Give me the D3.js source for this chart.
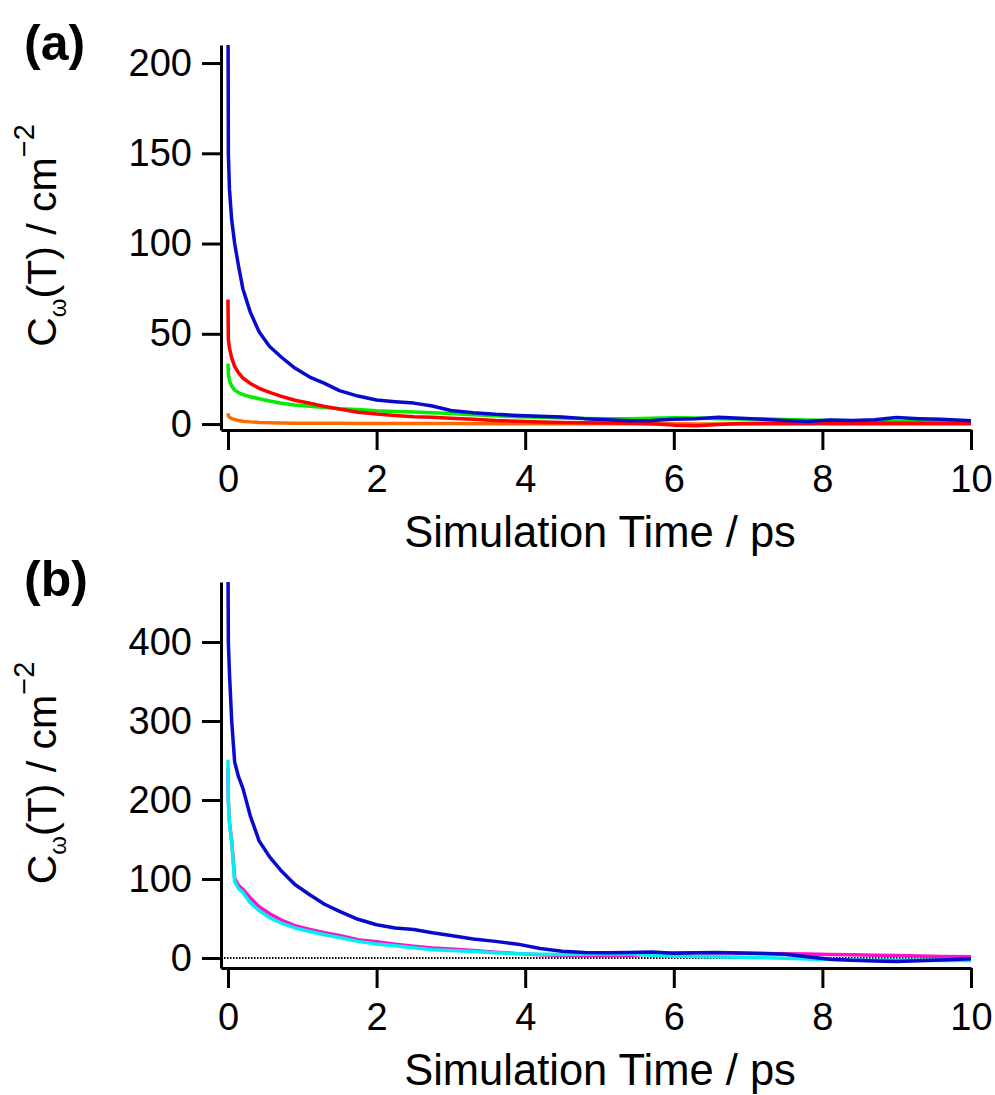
<!DOCTYPE html>
<html>
<head>
<meta charset="utf-8">
<script src="https://cdn.jsdelivr.net/npm/d3@7"></script>
<style>
  html, body { margin: 0; padding: 0; background: #fff; }
  svg { display: block; }
  text { font-family: "Liberation Sans", Arial, sans-serif; fill: #000; }
</style>
</head>
<body>
<svg id="chart" width="995" height="1095"></svg>
<script>
// ---------- DATA ----------
const timeA = [0, 0.005, 0.02, 0.05, 0.09, 0.14, 0.2, 0.3, 0.42, 0.56, 0.72, 0.9, 1.1, 1.3, 1.5, 1.75, 2.0, 2.25, 2.5, 2.75, 3.0, 3.3, 3.6, 3.9, 4.2, 4.5, 4.8, 5.1, 5.4, 5.7, 6.0, 6.3, 6.6, 6.9, 7.2, 7.5, 7.8, 8.1, 8.4, 8.7, 9.0, 9.3, 9.6, 10.0];
const blueA   = [240, 150, 130, 113, 100, 88, 75, 62, 51, 43, 37, 31, 26, 22.5, 18.5, 15.5, 13.3, 12.4, 11.6, 10, 7.5, 6.3, 5.4, 4.8, 4.3, 3.9, 3.0, 2.4, 1.8, 2.0, 2.6, 3.0, 3.7, 3.2, 2.6, 1.9, 1.4, 2.2, 1.9, 2.4, 3.6, 3.0, 2.6, 1.8];
const redA    = [69, 47, 42, 36.5, 32, 28.5, 25.5, 22.5, 19.8, 17.5, 15.3, 13.2, 11.5, 9.8, 8.3, 6.5, 5.5, 4.8, 4.1, 3.7, 3.2, 2.6, 1.9, 1.5, 1.2, 0.9, 0.7, 0.6, 0.5, 0.2, -0.6, -1.0, -0.3, 0.3, 0.5, 0.4, 0.6, 0.5, 0.4, 0.6, 0.5, 0.4, 0.5, 0.4];
const greenA  = [33.5, 28, 24, 21, 18.8, 17.5, 16.3, 15.1, 14, 12.8, 11.5, 10.6, 9.8, 9.1, 8.5, 8.1, 7.4, 7.0, 6.7, 6.2, 5.8, 5.2, 4.6, 4.0, 3.7, 3.4, 3.1, 3.0, 3.0, 3.2, 3.5, 3.3, 3.0, 2.8, 2.8, 2.5, 2.2, 2.0, 1.8, 1.5, 1.3, 1.6, 1.9, 1.8];
const orangeA = [6, 4.5, 3.8, 3.0, 2.5, 2.0, 1.6, 1.2, 0.9, 0.7, 0.6, 0.5, 0.45, 0.4, 0.4, 0.35, 0.3, 0.3, 0.3, 0.25, 0.25, 0.2, 0.2, 0.2, 0.15, 0.15, 0.1, 0.1, 0.1, 0.1, 0.1, 0.05, 0.05, 0.05, 0, 0, 0, 0, 0, 0, 0, 0, 0, 0];

const timeB = timeA;
const blueB    = [500, 400, 360, 300, 248, 230, 215, 180, 148, 128, 110, 93, 80, 68, 59, 49, 42, 38, 36, 32, 28.5, 24, 21, 17.5, 12, 8.5, 6.8, 6.6, 7.0, 7.6, 6.0, 6.6, 6.8, 6.2, 5.6, 4.8, 1.5, -1.5, -3.0, -3.8, -4.4, -3.5, -2.6, -1];
const magentaB = [240, 200, 172, 148, 101, 92, 87, 76, 65, 56, 48, 41, 36, 32, 28.5, 23, 20.5, 17.5, 15, 12.5, 11.3, 9.5, 7.4, 5.5, 4.0, 3.2, 3.0, 3.0, 3.2, 5.0, 6.2, 6.6, 6.6, 6.0, 5.8, 5.4, 5.0, 4.4, 4.0, 3.5, 3.0, 2.5, 2.0, 1.5];
const cyanB    = [251, 197, 170, 146, 97, 88, 83, 70, 60, 51, 44, 38, 33.5, 29.5, 26, 21, 17.8, 15.5, 13, 10.5, 9.5, 8.2, 6.6, 5.5, 4.8, 4.4, 4.8, 5.0, 5.3, 3.5, 2.3, 2.0, 1.5, 0.8, 0.2, -0.5, -1.2, -1.8, -2.5, -2.8, -3.0, -3.0, -3.2, -3.2];

const xTicks = [0, 2, 4, 6, 8, 10];
const yTicksA = [0, 50, 100, 150, 200];
const yTicksB = [0, 100, 200, 300, 400];
const xLabel = "Simulation Time / ps";
const panelLabels = ["(a)", "(b)"];

// ---------- DRAW ----------
const svg = d3.select("#chart");

function drawPanel(cfg) {
  const x = d3.scaleLinear().domain([-0.094, 10]).range([221, 971]);
  const y = d3.scaleLinear().domain(cfg.yDomain).range([cfg.bottom, cfg.top]);
  const g = svg.append("g");

  const clipId = "clip" + cfg.id;
  svg.append("defs").append("clipPath").attr("id", clipId)
    .append("rect").attr("x", 221).attr("y", cfg.top)
    .attr("width", 760).attr("height", cfg.bottom - cfg.top);

  const plot = g.append("g").attr("clip-path", `url(#${clipId})`);

  if (cfg.zeroLine) {
    plot.append("line")
      .attr("x1", x.range()[0]).attr("x2", x(10))
      .attr("y1", y(0)).attr("y2", y(0))
      .attr("stroke", "#000").attr("stroke-width", 2)
      .attr("stroke-dasharray", "1.5,1.5");
  }

  const line = d3.line().x((d, i) => x(cfg.time[i])).y(d => y(d));
  cfg.series.forEach(s => {
    plot.append("path").datum(s.values)
      .attr("d", line)
      .attr("fill", "none")
      .attr("stroke", s.color)
      .attr("stroke-width", 3.5)
      .attr("stroke-linejoin", "round");
  });

  // axes
  const yAxis = d3.axisLeft(y).tickValues(cfg.yTicks).tickSize(19).tickSizeOuter(0).tickPadding(10);
  const gy = g.append("g").attr("transform", "translate(221,0)").call(yAxis);
  const xAxis = d3.axisBottom(x).tickValues(xTicks).tickSize(20).tickSizeOuter(0).tickPadding(15);
  const gx = g.append("g").attr("transform", `translate(0,${cfg.bottom})`).call(xAxis);

  [gx, gy].forEach(a => {
    a.select(".domain").attr("stroke", "#000").attr("stroke-width", 3);
    a.selectAll(".tick line").attr("stroke", "#000").attr("stroke-width", 3);
    a.selectAll(".tick text").attr("font-size", 38).attr("font-family", "Liberation Sans, Arial, sans-serif").attr("fill", "#000");
  });

  // x label
  g.append("text").attr("x", 600).attr("y", cfg.bottom + 117)
    .attr("text-anchor", "middle").attr("font-size", 43.5).text(xLabel);

  // y label
  const cy = (cfg.top + cfg.bottom) / 2 - 2;
  const yl = g.append("text")
    .attr("transform", `translate(56,${cy}) rotate(-90)`)
    .attr("text-anchor", "middle").attr("font-size", 41);
  yl.append("tspan").text("C");
  yl.append("tspan").attr("font-size", 24).attr("dy", 10).text("ω");
  yl.append("tspan").attr("dy", -10).text("(T) / cm");
  yl.append("tspan").attr("font-size", 29).attr("dy", -22).text("−2");

  // panel label
  g.append("text").attr("x", 24).attr("y", cfg.labelY)
    .attr("font-size", 50).attr("font-weight", "bold").text(cfg.label);
}

drawPanel({
  id: "a", top: 45, bottom: 430, yDomain: [-3.3, 210], yTicks: yTicksA, time: timeA,
  label: panelLabels[0], labelY: 60, zeroLine: false,
  series: [
    { values: orangeA, color: "#ff6a00" },
    { values: greenA, color: "#00ee00" },
    { values: redA, color: "#ff0000" },
    { values: blueA, color: "#0a0acc" }
  ]
});

drawPanel({
  id: "b", top: 582, bottom: 968, yDomain: [-12.7, 476], yTicks: yTicksB, time: timeB,
  label: panelLabels[1], labelY: 596, zeroLine: true,
  series: [
    { values: magentaB, color: "#ff10c8" },
    { values: cyanB, color: "#00f0f0" },
    { values: blueB, color: "#0a0acc" }
  ]
});
</script>
</body>
</html>
